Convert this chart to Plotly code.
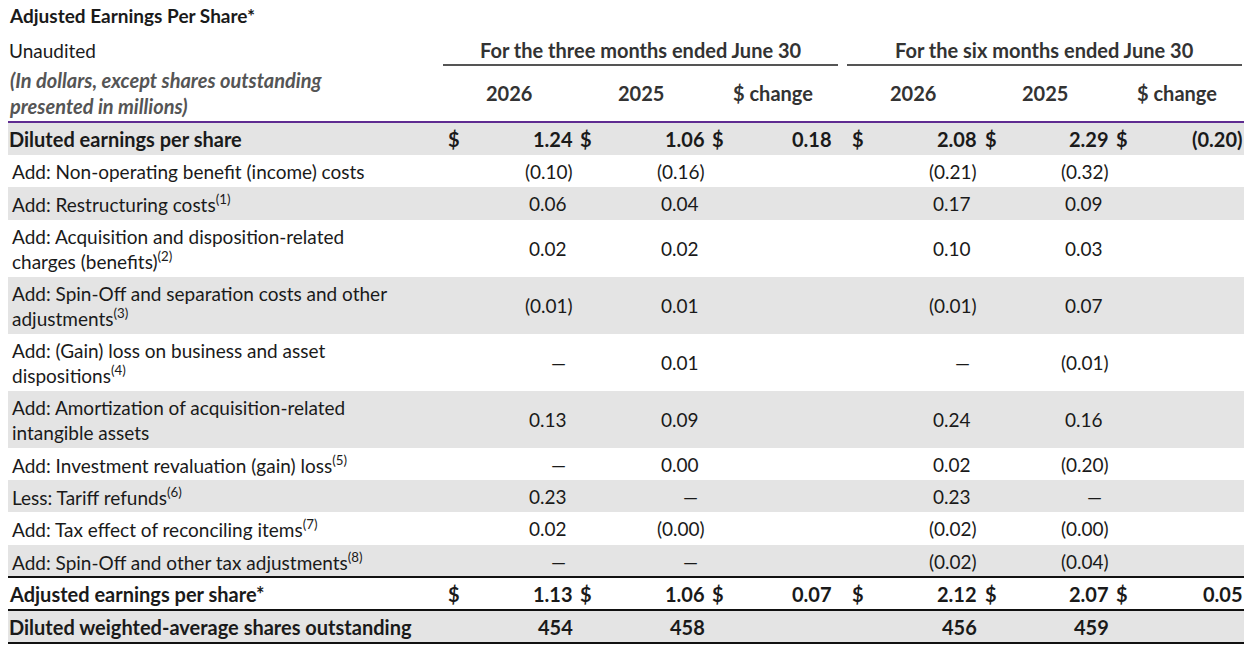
import plotly.graph_objects as go

# row labels, values for (3m 2026, 3m 2025, 3m chg, 6m 2026, 6m 2025, 6m chg)
labels = [
    "Diluted earnings per share",
    "Add: Non-operating benefit (income) costs",
    "Add: Restructuring costs<sup>(1)</sup>",
    "Add: Acquisition and disposition-related<br>charges (benefits)<sup>(2)</sup>",
    "Add: Spin-Off and separation costs and other<br>adjustments<sup>(3)</sup>",
    "Add: (Gain) loss on business and asset<br>dispositions<sup>(4)</sup>",
    "Add: Amortization of acquisition-related<br>intangible assets",
    "Add: Investment revaluation (gain) loss<sup>(5)</sup>",
    "Less: Tariff refunds<sup>(6)</sup>",
    "Add: Tax effect of reconciling items<sup>(7)</sup>",
    "Add: Spin-Off and other tax adjustments<sup>(8)</sup>",
    "Adjusted earnings per share*",
    "Diluted weighted-average shares outstanding",
]
q3_2026 = ["1.24", "(0.10)", "0.06", "0.02", "(0.01)", "—", "0.13", "—", "0.23", "0.02", "—", "1.13", "454"]
q3_2025 = ["1.06", "(0.16)", "0.04", "0.02", "0.01", "0.01", "0.09", "0.00", "—", "(0.00)", "—", "1.06", "458"]
q3_chg = ["0.18", "", "", "", "", "", "", "", "", "", "", "0.07", ""]
h1_2026 = ["2.08", "(0.21)", "0.17", "0.10", "(0.01)", "—", "0.24", "0.02", "0.23", "(0.02)", "(0.02)", "2.12", "456"]
h1_2025 = ["2.29", "(0.32)", "0.09", "0.03", "0.07", "(0.01)", "0.16", "(0.20)", "—", "(0.00)", "(0.04)", "2.07", "459"]
h1_chg = ["(0.20)", "", "", "", "", "", "", "", "", "", "", "0.05", ""]
bold_rows = [0, 11, 12]
dollar_rows = [0, 11]
years = ["2026", "2025", "$ change", "2026", "2025", "$ change"]
groups = ["For the three months ended June 30", "For the six months ended June 30"]

W, H = 1252, 649
OFF = 8  # page body margin
FONT = "Lato"
GREY = "#e4e4e4"
TXT = "#1a1a1a"
row_h = [33, 32, 33, 57, 57, 57, 57, 32, 32, 33, 32, 33, 33]
top = 122
col_right = [572, 704, 831, 976, 1108, 1242]
col_dollar = [454, 586, 718, 858, 991, 1122]
col_center = [509, 641, 773, 913, 1045, 1177]

fig = go.Figure()
shapes, ann = [], []

def text(x, y, s, anchor="left", bold=False, italic=False, size=19, color=TXT):
    if bold:
        s = f"<b>{s}</b>"
        size += 1
    if italic:
        s = f"<i>{s}</i>"
    ann.append(dict(x=x, y=y, xref="x", yref="y", text=s, showarrow=False,
                    xanchor=anchor, yanchor="middle", align="left",
                    xshift=-3 if anchor == "left" else (3 if anchor == "right" else 0),
                    font=dict(family=FONT, size=size, color=color)))

text(10, 15, "Adjusted Earnings Per Share*", bold=True, size=18)
text(10, 50, "Unaudited")
text(10, 93, "(In dollars, except shares outstanding<br>presented in millions)", bold=True, italic=True, color="#555555")
for g, (x0, x1) in zip(groups, [(443, 838), (847, 1242)]):
    text((x0 + x1) / 2, 50, g, anchor="center", bold=True, color="#333333")
    shapes.append(dict(type="line", xref="x", yref="y", x0=x0, x1=x1, y0=65, y1=65,
                       line=dict(color="#555555", width=2)))
for yr, xc in zip(years, col_center):
    text(xc, 93, yr, anchor="center", bold=True, color="#333333")
shapes.append(dict(type="line", xref="x", yref="y", x0=0, x1=1244, y0=122, y1=122,
                   line=dict(color="#5f2c91", width=2)))

y = top
cols = [q3_2026, q3_2025, q3_chg, h1_2026, h1_2025, h1_chg]
for i, lab in enumerate(labels):
    h = row_h[i]
    if i % 2 == 0:
        shapes.append(dict(type="rect", xref="x", yref="y", x0=0, x1=1244, y0=y, y1=y + h,
                           fillcolor=GREY, line=dict(width=0), layer="below"))
    yc = y + h / 2
    b = i in bold_rows
    text(10 if b else 13, yc, lab, bold=b)
    if i in dollar_rows:
        for xd in col_dollar:
            text(xd, yc, "$", anchor="center", bold=True)
    for c, vals in enumerate(cols):
        v = vals[i]
        if not v:
            continue
        if v == "—":
            text(col_right[c] - 14, yc, v, anchor="center", bold=b)
        elif v.endswith(")") or b:
            text(col_right[c], yc, v, anchor="right", bold=b)
        else:
            text(col_right[c] - 6, yc, v, anchor="right", bold=b)
    y += h
    if i in (10, 11, 12):
        shapes.append(dict(type="line", xref="x", yref="y", x0=0, x1=1244, y0=y, y1=y,
                           line=dict(color="#111111", width=2)))

fig.update_layout(
    width=W - OFF, height=H - OFF, margin=dict(l=0, r=0, t=0, b=0),
    plot_bgcolor="white", paper_bgcolor="white",
    xaxis=dict(range=[OFF, W], visible=False, fixedrange=True),
    yaxis=dict(range=[H, OFF], visible=False, fixedrange=True),
    shapes=shapes, annotations=ann, showlegend=False,
)
fig.write_html("out.html")
